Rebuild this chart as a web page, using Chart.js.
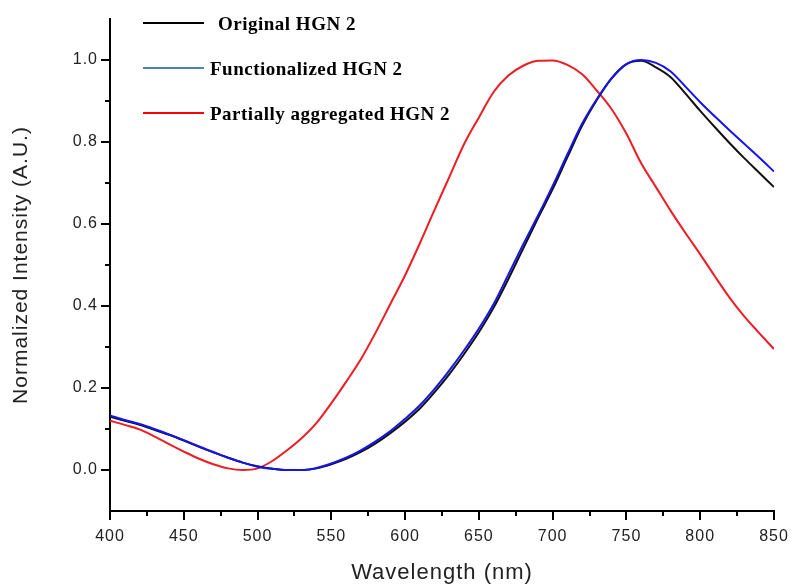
<!DOCTYPE html>
<html lang="en">
<head>
    <meta charset="UTF-8">
    <title>HGN 2 spectra</title>
    <script src="https://cdn.jsdelivr.net/npm/chart.js"></script>
    <style>
        body { margin: 0; background: #fff; }
    </style>
</head>
<body>
    <canvas id="myChart" width="794" height="585"></canvas>

    <script>
        // wavelength (nm), every 10 nm
        const wavelengths = [400, 410, 420, 430, 440, 450, 460, 470, 480, 490,
            500, 510, 520, 530, 540, 550, 560, 570, 580, 590,
            600, 610, 620, 630, 640, 650, 660, 670, 680, 690,
            700, 710, 720, 730, 740, 750, 760, 770, 780, 790,
            800, 810, 820, 830, 840, 850];

        const original = [0.130, 0.120, 0.110, 0.098, 0.086, 0.072, 0.057, 0.043, 0.030, 0.018,
            0.009, 0.003, 0.000, 0.000, 0.004, 0.014, 0.027, 0.044, 0.065, 0.090,
            0.118, 0.150, 0.190, 0.234, 0.283, 0.336, 0.396, 0.466, 0.540, 0.614,
            0.685, 0.763, 0.840, 0.903, 0.956, 0.990, 0.998, 0.982, 0.958, 0.918,
            0.876, 0.836, 0.797, 0.760, 0.725, 0.690];

        const functionalized = [0.133, 0.122, 0.112, 0.100, 0.087, 0.073, 0.058, 0.044, 0.030, 0.018,
            0.008, 0.003, 0.000, 0.000, 0.005, 0.016, 0.030, 0.048, 0.070, 0.095,
            0.125, 0.158, 0.198, 0.243, 0.292, 0.345, 0.405, 0.477, 0.550, 0.620,
            0.693, 0.770, 0.845, 0.905, 0.955, 0.990, 1.000, 0.993, 0.972, 0.935,
            0.897, 0.862, 0.828, 0.795, 0.762, 0.728];

        const aggregated = [0.120, 0.110, 0.099, 0.082, 0.063, 0.045, 0.028, 0.014, 0.004, 0.000,
            0.004, 0.022, 0.048, 0.078, 0.115, 0.163, 0.215, 0.270, 0.335, 0.405,
            0.475, 0.553, 0.635, 0.715, 0.795, 0.860, 0.922, 0.962, 0.986, 0.998,
            0.999, 0.988, 0.965, 0.925, 0.880, 0.820, 0.748, 0.690, 0.632, 0.578,
            0.526, 0.472, 0.420, 0.374, 0.334, 0.295];

        const xTicks = [400, 450, 500, 550, 600, 650, 700, 750, 800, 850];
        const yTicks = [0.0, 0.2, 0.4, 0.6, 0.8, 1.0];

        const labels = ['Original HGN 2', 'Functionalized HGN 2', 'Partially aggregated HGN 2'];

        function toPoints(values) {
            return values.map((v, i) => ({ x: wavelengths[i], y: v }));
        }

        // the original figure has slightly wide lettering
        const spacingPlugin = {
            id: 'wideText',
            beforeLayout(chart) { chart.ctx.letterSpacing = '1px'; },
            beforeDraw(chart) { chart.ctx.letterSpacing = '1px'; }
        };

        // legend drawn by hand, Origin style, top-left
        const legendPlugin = {
            id: 'originLegend',
            afterDraw(chart) {
                const ctx = chart.ctx;
                const rows = [
                    { y: 23, tx: 218, color: '#000000' },
                    { y: 68, tx: 210, color: '#4f81bd' },
                    { y: 113, tx: 210, color: '#ff0000' }
                ];
                ctx.save();
                ctx.font = 'bold 19px "Liberation Serif", "Times New Roman", serif';
                ctx.letterSpacing = '0.5px';
                ctx.textBaseline = 'middle';
                ctx.fillStyle = '#000';
                rows.forEach((r, i) => {
                    ctx.strokeStyle = r.color;
                    ctx.lineWidth = 2;
                    ctx.beginPath();
                    ctx.moveTo(143, r.y);
                    ctx.lineTo(204, r.y);
                    ctx.stroke();
                    ctx.fillText(labels[i], r.tx, r.y + 2);
                });
                ctx.restore();
            }
        };

        // major + minor tick marks outside the axes
        const tickPlugin = {
            id: 'minorTicks',
            afterDraw(chart) {
                const ctx = chart.ctx;
                const xs = chart.scales.x;
                const ys = chart.scales.y;
                const area = chart.chartArea;
                ctx.save();
                ctx.strokeStyle = '#000';
                ctx.lineWidth = 2;
                for (let v = 400; v <= 850; v += 25) {
                    const px = Math.round(xs.getPixelForValue(v));
                    const len = v % 50 === 0 ? 9 : 5;
                    ctx.beginPath();
                    ctx.moveTo(px, area.bottom);
                    ctx.lineTo(px, area.bottom + len);
                    ctx.stroke();
                }
                for (let k = 0; k <= 10; k++) {
                    const py = Math.round(ys.getPixelForValue(k / 10));
                    const len = k % 2 === 0 ? 9 : 5;
                    ctx.beginPath();
                    ctx.moveTo(area.left, py);
                    ctx.lineTo(area.left - len, py);
                    ctx.stroke();
                }
                ctx.restore();
            }
        };

        const tickFont = { family: '"Liberation Sans", Arial, sans-serif', size: 16 };

        const config = {
            type: 'line',
            data: {
                datasets: [
                    {
                        label: labels[0],
                        data: toPoints(original),
                        borderColor: '#111111',
                        borderWidth: 2,
                        order: 1
                    },
                    {
                        label: labels[1],
                        data: toPoints(functionalized),
                        borderColor: 'rgb(20, 20, 235)',
                        borderWidth: 2,
                        order: 0
                    },
                    {
                        label: labels[2],
                        data: toPoints(aggregated),
                        borderColor: 'rgb(238, 28, 36)',
                        borderWidth: 2,
                        order: 2
                    }
                ]
            },
            options: {
                responsive: false,
                animation: false,
                elements: {
                    point: { radius: 0 },
                    line: { cubicInterpolationMode: 'monotone', fill: false }
                },
                layout: { padding: { top: 19, right: 20, left: 0, bottom: 0 } },
                plugins: {
                    legend: { display: false },
                    tooltip: { enabled: false }
                },
                scales: {
                    x: {
                        type: 'linear',
                        min: 400,
                        max: 850,
                        afterFit(scale) {
                            scale.height = 74;
                            scale.paddingLeft = 0;
                            scale.paddingRight = 0;
                        },
                        afterBuildTicks(scale) { scale.ticks = xTicks.map(v => ({ value: v })); },
                        grid: { display: false, drawTicks: false },
                        border: { display: true, color: '#000', width: 2 },
                        ticks: { font: tickFont, color: '#222', padding: 16, maxRotation: 0, autoSkip: false },
                        title: {
                            display: true,
                            text: 'Wavelength (nm)',
                            font: { family: '"Liberation Sans", Arial, sans-serif', size: 22, lineHeight: 1 },
                            color: '#222',
                            padding: { top: 0, bottom: 1 }
                        }
                    },
                    y: {
                        min: -0.1,
                        max: 1.1,
                        afterFit(scale) {
                            scale.width = 110;
                            scale.paddingTop = 0;
                            scale.paddingBottom = 0;
                        },
                        afterBuildTicks(scale) { scale.ticks = yTicks.map(v => ({ value: v })); },
                        grid: { display: false, drawTicks: false },
                        border: { display: true, color: '#000', width: 2 },
                        ticks: {
                            font: tickFont,
                            color: '#222',
                            padding: 12,
                            autoSkip: false,
                            callback: v => v.toFixed(1)
                        },
                        title: {
                            display: true,
                            text: 'Normalized Intensity (A.U.)',
                            font: { family: '"Liberation Sans", Arial, sans-serif', size: 21, lineHeight: 1 },
                            color: '#222',
                            padding: { top: 11, bottom: 0 }
                        }
                    }
                }
            },
            plugins: [spacingPlugin, tickPlugin, legendPlugin]
        };

        const ctx = document.getElementById('myChart').getContext('2d');
        const chart = new Chart(ctx, config);
    </script>
</body>
</html>
